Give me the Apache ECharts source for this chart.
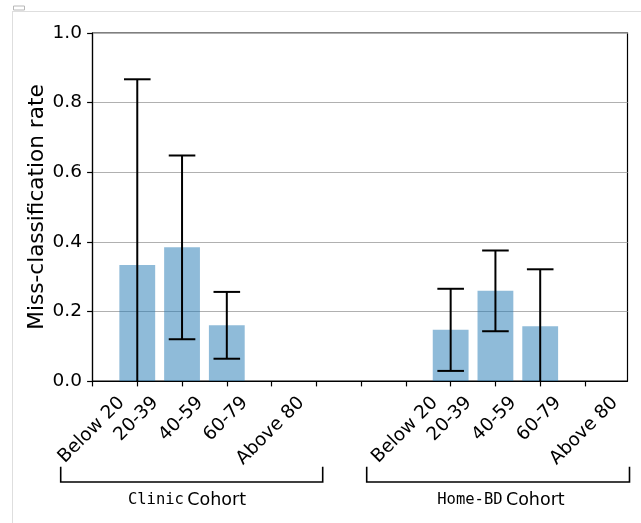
<!DOCTYPE html>
<html>
<head>
<meta charset="utf-8">
<script src="https://cdn.jsdelivr.net/npm/echarts@6/dist/echarts.min.js"></script>
<style>
html,body{margin:0;padding:0;background:#fff;}
#chart{width:641px;height:523px;}
</style>
</head>
<body>
<div id="chart"></div>
<script>
// ---- data ----
const tickLabels = ['Below 20', '20-39', '40-59', '60-79', 'Above 80', '', '', 'Below 20', '20-39', '40-59', '60-79', 'Above 80'];
const tickPositions = [0, 1, 2, 3, 4, 5, 6, 7, 8, 9, 10, 11];
const clinicPositions = [1, 2, 3, 4, 5];
const clinicRates = [0.333, 0.384, 0.160, 0, 0];
const clinicErrors = [0.534, 0.264, 0.096, 0, 0];
const homePositions = [7, 8, 9, 10, 11];
const homeRates = [0, 0.147, 0.259, 0.157, 0];
const homeErrors = [0, 0.118, 0.116, 0.164, 0];
const yTicks = [0, 0.2, 0.4, 0.6, 0.8, 1.0];
const groupNames = [['Clinic', 'Cohort'], ['Home-BD', 'Cohort']];

// ---- build ----
const barData = [];
const errData = [];
function addGroup(pos, rates, errs) {
  pos.forEach((p, i) => {
    barData.push([p, rates[i]]);
    if (errs[i] > 0) errData.push([p, rates[i], rates[i] - errs[i], rates[i] + errs[i]]);
  });
}
addGroup(clinicPositions, clinicRates, clinicErrors);
addGroup(homePositions, homeRates, homeErrors);

const FONT = '"DejaVu Sans", Verdana, sans-serif';
const TICK_FS = 18.5;
const measureCtx = document.createElement('canvas').getContext('2d');
measureCtx.font = TICK_FS + 'px "DejaVu Sans"';

const chart = echarts.init(document.getElementById('chart'), null, {renderer: 'canvas'});
const option = {
  animation: false,
  backgroundColor: '#fff',
  grid: {left: 92.5, top: 33, width: 535, height: 348, show: true, borderColor: '#000', borderWidth: 1.2, containLabel: false},
  xAxis: {
    type: 'value', min: 0, max: 11.95,
    splitLine: {show: false},
    axisLine: {show: true, lineStyle: {color: '#000', width: 1.2}},
    axisTick: {show: true, length: 5.4, lineStyle: {color: '#000', width: 1.2}, customValues: tickPositions},
    axisLabel: {show: false}
  },
  yAxis: {
    type: 'value', min: 0, max: 1, interval: 0.2,
    name: 'Miss-classification rate', nameLocation: 'middle', nameGap: 44, nameMoveOverlap: false,
    nameTextStyle: {fontSize: 21.6, fontFamily: FONT, color: '#000'},
    axisLine: {show: true, lineStyle: {color: '#000', width: 1.2}},
    axisTick: {show: true, length: 5.4, lineStyle: {color: '#000', width: 1.2}, customValues: yTicks},
    axisLabel: {fontSize: TICK_FS, fontFamily: FONT, color: '#000', margin: 10.5, formatter: v => v.toFixed(1), customValues: yTicks},
    splitLine: {show: true, lineStyle: {color: '#b0b0b0', width: 1.2}}
  },
  series: [
    {
      type: 'bar', data: barData, barWidth: 35.8,
      itemStyle: {color: 'rgba(31,119,180,0.5)'},
      z: 2
    },
    {
      type: 'custom', data: errData, clip: true, z: 3,
      renderItem: function (params, api) {
        const x = api.value(0);
        const top = api.coord([x, api.value(3)]);
        const bot = api.coord([x, api.value(2)]);
        const hw = 13.3;
        const st = {stroke: '#000', lineWidth: 2};
        return {
          type: 'group',
          children: [
            {type: 'line', shape: {x1: top[0], y1: top[1], x2: bot[0], y2: bot[1]}, style: st},
            {type: 'line', shape: {x1: top[0] - hw, y1: top[1], x2: top[0] + hw, y2: top[1]}, style: st},
            {type: 'line', shape: {x1: bot[0] - hw, y1: bot[1], x2: bot[0] + hw, y2: bot[1]}, style: st}
          ]
        };
      }
    },
    {
      type: 'custom', data: tickPositions.map(p => [p, 0]), clip: false, silent: true, z: 4,
      renderItem: function (params, api) {
        const label = tickLabels[params.dataIndex];
        if (!label) return null;
        const p = api.coord([api.value(0), 0]);
        const W = measureCtx.measureText(label).width;
        const cx = p[0] - 0.053 * TICK_FS;
        const cy = p[1] + 14 + 0.354 * W + 0.27 * TICK_FS;
        return {
          type: 'text', x: cx, y: cy, rotation: Math.PI / 4,
          style: {text: label, fontSize: TICK_FS, fontFamily: FONT, fill: '#000', align: 'center', verticalAlign: 'middle'}
        };
      }
    }
  ],
  graphic: [
    {type: 'line', shape: {x1: 13, y1: 11.5, x2: 641, y2: 11.5}, style: {stroke: '#dedede', lineWidth: 1}},
    {type: 'line', shape: {x1: 12.5, y1: 11, x2: 12.5, y2: 523}, style: {stroke: '#dedede', lineWidth: 1}},
    {type: 'rect', shape: {x: 13.5, y: 6, width: 11, height: 4}, style: {fill: '#fff', stroke: '#b8b8b8', lineWidth: 1}},
    {type: 'polyline', shape: {points: [[60.7, 466.7], [60.7, 482], [322.7, 482], [322.7, 466.7]]}, style: {stroke: '#000', lineWidth: 1.6, fill: null}},
    {type: 'polyline', shape: {points: [[366.7, 466.7], [366.7, 482], [629.5, 482], [629.5, 466.7]]}, style: {stroke: '#000', lineWidth: 1.6, fill: null}},
    {type: 'text', x: 187, y: 500, style: {
      text: '{m|' + groupNames[0][0] + '} {n|' + groupNames[0][1] + '}', align: 'center', verticalAlign: 'middle',
      rich: {m: {fontFamily: '"DejaVu Sans Mono", monospace', fontSize: 15.5, fill: '#000'}, n: {fontFamily: FONT, fontSize: 17.5, fill: '#000'}}
    }},
    {type: 'text', x: 501, y: 500, style: {
      text: '{m|' + groupNames[1][0] + '} {n|' + groupNames[1][1] + '}', align: 'center', verticalAlign: 'middle',
      rich: {m: {fontFamily: '"DejaVu Sans Mono", monospace', fontSize: 15.5, fill: '#000'}, n: {fontFamily: FONT, fontSize: 17.5, fill: '#000'}}
    }}
  ]
};
chart.setOption(option);
</script>
</body>
</html>
